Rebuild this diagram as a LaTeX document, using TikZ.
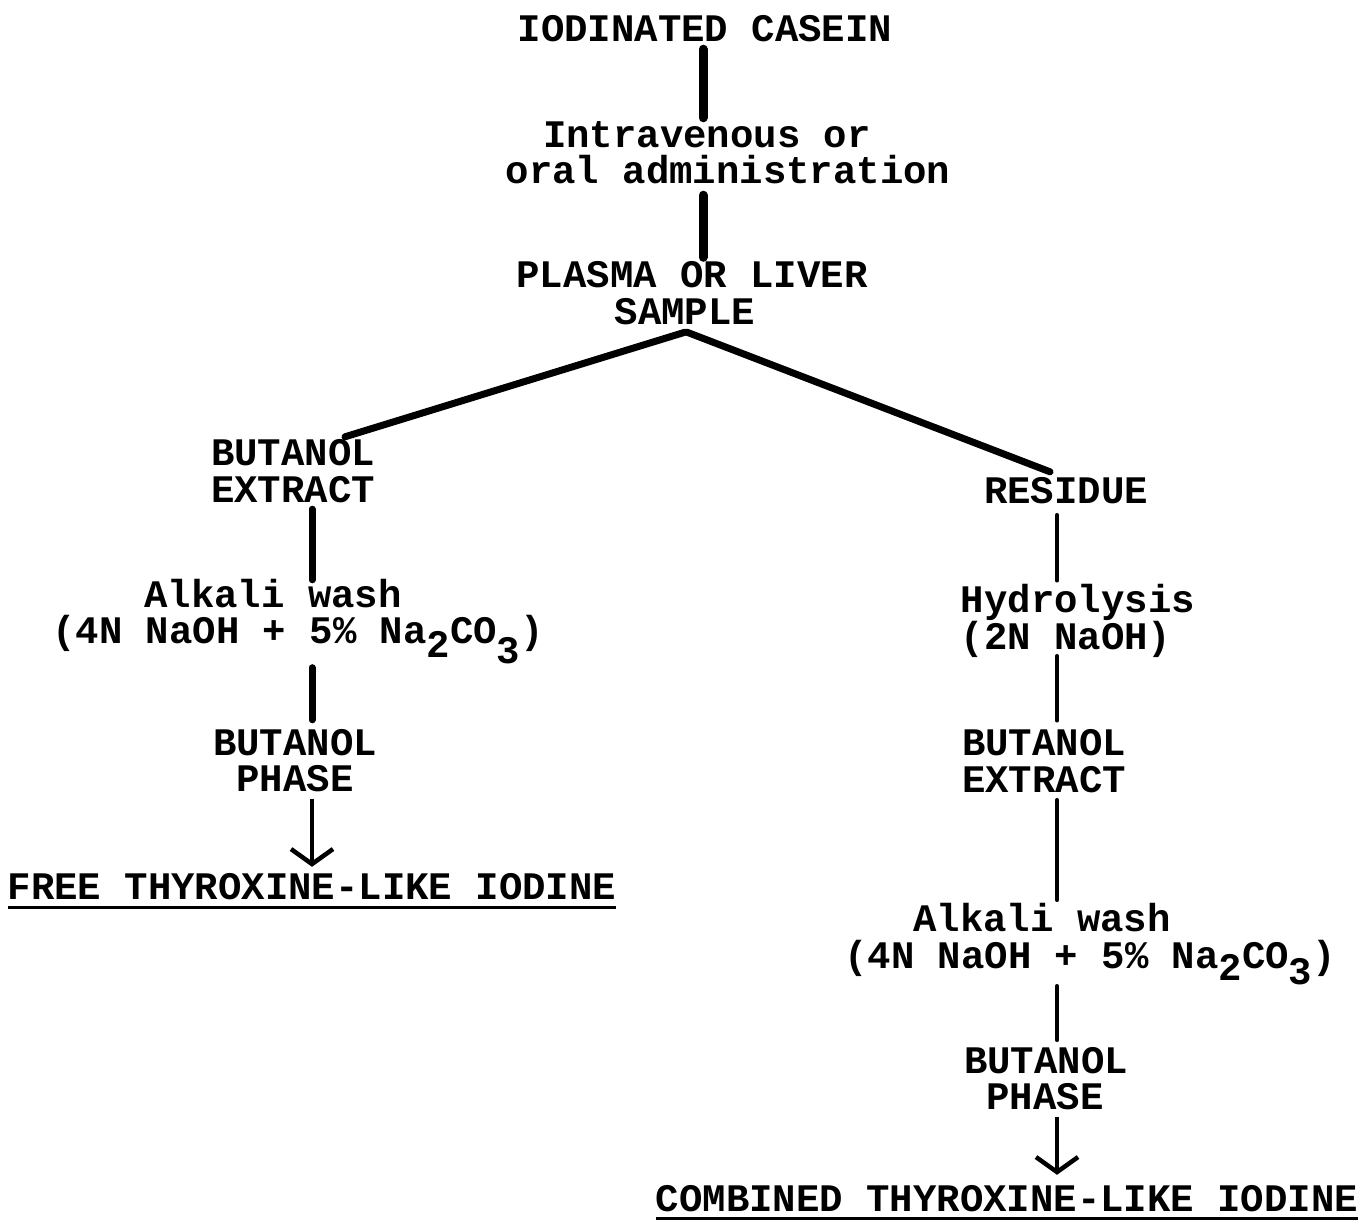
\documentclass[tikz,border=0pt]{standalone}
\usepackage{fontspec}
\setmonofont{Liberation Mono}
\usetikzlibrary{arrows.meta}
\begin{document}
\begin{tikzpicture}[x=1pt,y=-1pt,
  txt/.style={inner sep=0pt, anchor=base, font=\ttfamily\bfseries\fontsize{39}{39}\selectfont, text height=24pt, text depth=6pt},
  frm/.style={txt, text depth=24pt},
  vtop/.style={line width=9pt, line cap=round},
  vleft/.style={line width=7pt, line cap=round},
  vright/.style={line width=4.5pt, line cap=round},
  diag/.style={line width=7pt, line cap=round},
  arr/.style={line width=4.5pt, -{Straight Barb[length=15pt,width=42pt]}},
  uline/.style={line width=3pt}
]
\useasboundingbox (0,0) rectangle (1360,1221);
\fill[white] (0,0) rectangle (1360,1221);

% top column
\node[txt] (iod) at (705,41) {IODINATED CASEIN};
\node[txt] (iv1) at (707,147) {Intravenous or};
\node[txt] (iv2) at (728,183) {oral administration};
\node[txt] (pl1) at (692,287.5) {PLASMA OR LIVER};
\node[txt] (pl2) at (685,324) {SAMPLE};

% left column
\node[txt] (bl1) at (293,465) {BUTANOL};
\node[txt] (el1) at (293,502) {EXTRACT};
\node[txt] (awl) at (273,607) {Alkali wash};
\node[frm] (fml) at (298,643.5) {(4N NaOH + 5\% Na\raisebox{-14pt}{2}CO\raisebox{-20pt}{3})};
\node[txt] (bl2) at (295,755) {BUTANOL};
\node[txt] (phl) at (295,791.5) {PHASE};
\node[txt] (free) at (312,899) {FREE THYROXINE-LIKE IODINE};

% right column
\node[txt] (res) at (1066,503) {RESIDUE};
\node[txt] (hyd) at (1078,612.5) {Hydrolysis};
\node[txt] (naoh) at (1066,649) {(2N NaOH)};
\node[txt] (br1) at (1044,755.5) {BUTANOL};
\node[txt] (er1) at (1044,792) {EXTRACT};
\node[txt] (awr) at (1042,931) {Alkali wash};
\node[frm] (fmr) at (1090,968) {(4N NaOH + 5\% Na\raisebox{-12pt}{2}CO\raisebox{-16pt}{3})};
\node[txt] (br2) at (1046,1073) {BUTANOL};
\node[txt] (phr) at (1045,1109.5) {PHASE};
\node[txt] (comb) at (1007,1211) {COMBINED THYROXINE-LIKE IODINE};

\coordinate (ct) at (703,0);
\coordinate (cl) at (312,0);
\coordinate (cr) at (1057,0);

% connectors top
\draw[vtop] ([yshift=-2pt]iod.south -| ct) -- ([yshift=5pt]iv1.north -| ct);
\draw[vtop] ([yshift=-6pt]iv2.south -| ct) -- ([yshift=6pt]pl1.north -| ct);
\draw[diag] ([yshift=-2pt]pl2.south) -- ([xshift=52pt,yshift=4pt]bl1.north);
\draw[diag] ([xshift=2pt,yshift=-2pt]pl2.south) -- ([xshift=-16pt,yshift=7pt]res.north);

% left
\draw[vleft] ([yshift=-1pt]el1.south -| cl) -- ([yshift=3pt]awl.north -| cl);
\draw[vleft] (fml.south -| cl) -- ([yshift=11pt]bl2.north -| cl);
\draw[arr] ([yshift=-1pt]phl.south -| cl) -- ([yshift=8pt]free.north -| cl);
\draw[uline] ([yshift=-8pt]free.base west) -- ([yshift=-8pt]free.base east);

% right
\draw[vright] ([yshift=-6pt]res.south -| cr) -- ([yshift=8pt]hyd.north -| cr);
\draw[vright] ([yshift=-1pt]naoh.south -| cr) -- ([yshift=11pt]br1.north -| cr);
\draw[vright] ([yshift=-2pt]er1.south -| cr) -- ([yshift=7pt]awr.north -| cr);
\draw[vright] ([yshift=6pt]fmr.south -| cr) -- ([yshift=9pt]br2.north -| cr);
\draw[arr] ([yshift=-1pt]phr.south -| cr) -- ([yshift=12pt]comb.north -| cr);
\draw[uline] ([yshift=-7pt]comb.base west) -- ([yshift=-7pt]comb.base east);
\end{tikzpicture}
\end{document}
